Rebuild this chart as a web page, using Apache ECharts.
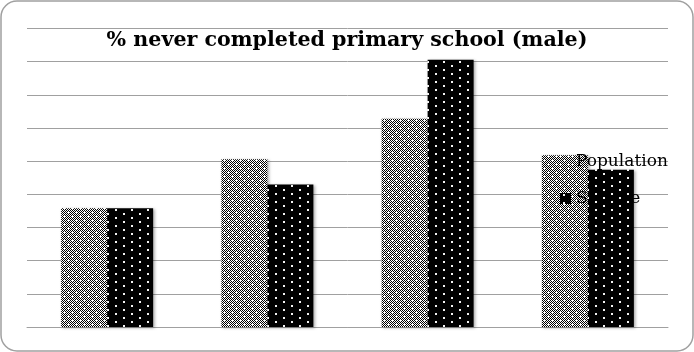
<!DOCTYPE html>
<html>
<head>
<meta charset="utf-8">
<script src="https://cdn.jsdelivr.net/npm/echarts@6/dist/echarts.min.js"></script>
<style>
  html, body { margin: 0; padding: 0; background: #ffffff; }
  #chart { width: 694px; height: 352px; }
</style>
</head>
<body>
<div id="chart"></div>
<script>
// Chart data
const titleText = '% never completed primary school (male)';
const categories = ['Group 1', 'Group 2', 'Group 3', 'Group 4'];
const populationValues = [17.9, 25.3, 31.4, 25.9];
const sampleValues = [17.9, 21.5, 40.3, 23.7];
const seriesNames = ['Population', 'Sample'];

// Tiled fill patterns for the two series
function makeTile(w, h, paint) {
  const c = document.createElement('canvas');
  c.width = w; c.height = h;
  const ctx = c.getContext('2d');
  paint(ctx);
  return c;
}

// Fine checker broken up by white crosses
const checkerTile = makeTile(8, 8, function (ctx) {
  ctx.fillStyle = '#ffffff';
  ctx.fillRect(0, 0, 8, 8);
  ctx.fillStyle = '#000000';
  for (let y = 0; y < 8; y++) {
    for (let x = 0; x < 8; x++) {
      const onCross = (x === 4 && y === 4) || (x === 0 && y === 0);
      if ((x + y) % 2 === 0 && !onCross) ctx.fillRect(x, y, 1, 1);
    }
  }
});

// Black with staggered white dots
const dotTile = makeTile(16, 8, function (ctx) {
  ctx.fillStyle = '#000000';
  ctx.fillRect(0, 0, 16, 8);
  ctx.fillStyle = '#f2f2f2';
  ctx.fillRect(3, 1, 2, 2);
  ctx.fillRect(11, 5, 2, 2);
});

const chart = echarts.init(document.getElementById('chart'), null, { renderer: 'canvas' });

const barShadow = {
  shadowColor: 'rgba(0,0,0,0.35)',
  shadowBlur: 3,
  shadowOffsetX: 1.5,
  shadowOffsetY: 1
};

chart.setOption({
  animation: false,
  backgroundColor: '#ffffff',
  title: {
    text: titleText,
    left: 'center',
    top: 25,
    textStyle: {
      fontFamily: 'DejaVu Serif',
      fontWeight: 'bold',
      fontSize: 20.6,
      color: '#000000'
    }
  },
  graphic: [{
    type: 'rect',
    silent: true,
    z: 100,
    shape: { x: 1, y: 1, width: 692, height: 350, r: 16 },
    style: { fill: null, stroke: '#a0a0a0', lineWidth: 1.5 }
  }],
  legend: {
    orient: 'vertical',
    left: 555,
    top: 148,
    z: 2,
    itemWidth: 11,
    itemHeight: 11,
    itemGap: 20,
    icon: 'rect',
    textStyle: {
      fontFamily: 'DejaVu Serif',
      fontSize: 17,
      color: '#000000'
    },
    data: seriesNames
  },
  grid: { left: 27, right: 26, top: 28.5, bottom: 25, containLabel: false },
  xAxis: {
    type: 'category',
    data: categories,
    axisLine: { show: true, lineStyle: { color: '#a0a0a0', width: 1 } },
    axisTick: { show: false },
    axisLabel: { show: false }
  },
  yAxis: {
    type: 'value',
    min: 0,
    max: 45,
    interval: 5,
    axisLine: { show: false },
    axisTick: { show: false },
    axisLabel: { show: false },
    splitLine: { lineStyle: { color: '#a0a0a0', width: 1 } }
  },
  series: [
    {
      name: seriesNames[0],
      type: 'bar',
      z: 1,
      barWidth: 46,
      barGap: '0%',
      data: populationValues,
      itemStyle: Object.assign({ color: { image: checkerTile, repeat: 'repeat' } }, barShadow)
    },
    {
      name: seriesNames[1],
      type: 'bar',
      z: 3,
      barWidth: 46,
      barGap: '0%',
      data: sampleValues,
      itemStyle: Object.assign({ color: { image: dotTile, repeat: 'repeat' } }, barShadow)
    }
  ]
});
</script>
</body>
</html>
